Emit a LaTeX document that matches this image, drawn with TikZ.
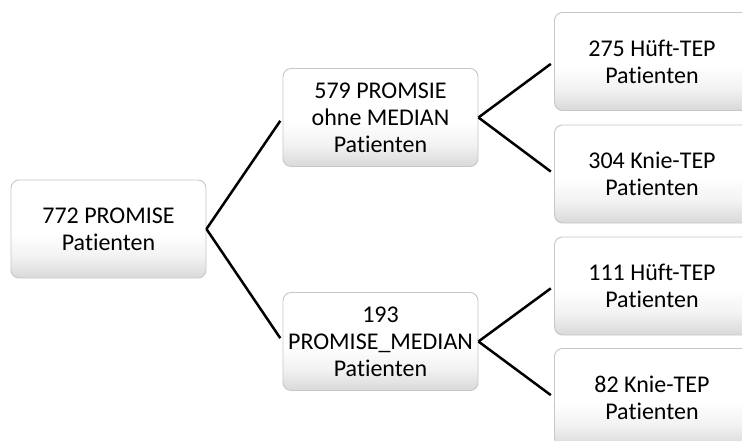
\documentclass[tikz,border=0pt]{standalone}
\usepackage{fontspec}
\setmainfont[Ligatures={NoCommon}]{Carlito}
\usetikzlibrary{calc}

% soft glossy fill: white body fading to light grey at the bottom
\pgfdeclareverticalshading{boxgloss}{100bp}{%
  color(0bp)=(black!16); color(25bp)=(black!15); color(36bp)=(black!5);
  color(48bp)=(white); color(100bp)=(white)}

\tikzset{
  treebox/.style={
    draw=black!22, line width=0.9pt, rounded corners=8pt,
    shading=boxgloss,
    minimum width=195pt, minimum height=98pt,
    align=center, inner sep=2pt,
    font=\fontsize{24pt}{27pt}\selectfont, text=black
  },
  branch/.style={line width=2.5pt, black, shorten >=4pt}
}

\begin{document}
\begin{tikzpicture}[x=1pt, y=-1pt]
  \useasboundingbox (0,0) rectangle (742,441);
  \clip (0,0) rectangle (742,441);

  % root
  \node[treebox] (root) at (108.5,229) {772 PROMISE\\Patienten};

  % second level
  \node[treebox] (m1) at (380.5,117.5) {579 PROMSIE\\ohne MEDIAN\\Patienten};
  \node[treebox] (m2) at (380.5,341.5) {193\\PROMISE\_MEDIAN\\Patienten};

  % third level
  \node[treebox] (r1) at (652,61.5)  {275 Hüft-TEP\\Patienten};
  \node[treebox] (r2) at (652,174)   {304 Knie-TEP\\Patienten};
  \node[treebox] (r3) at (652,286)   {111 Hüft-TEP\\Patienten};
  \node[treebox] (r4) at (652,397.5) {82 Knie-TEP\\Patienten};

  % branches
  \draw[branch] (root.east) -- (m1.west);
  \draw[branch] (root.east) -- (m2.west);
  \draw[branch] (m1.east) -- (r1.west);
  \draw[branch] (m1.east) -- (r2.west);
  \draw[branch] (m2.east) -- (r3.west);
  \draw[branch] (m2.east) -- (r4.west);
\end{tikzpicture}
\end{document}
